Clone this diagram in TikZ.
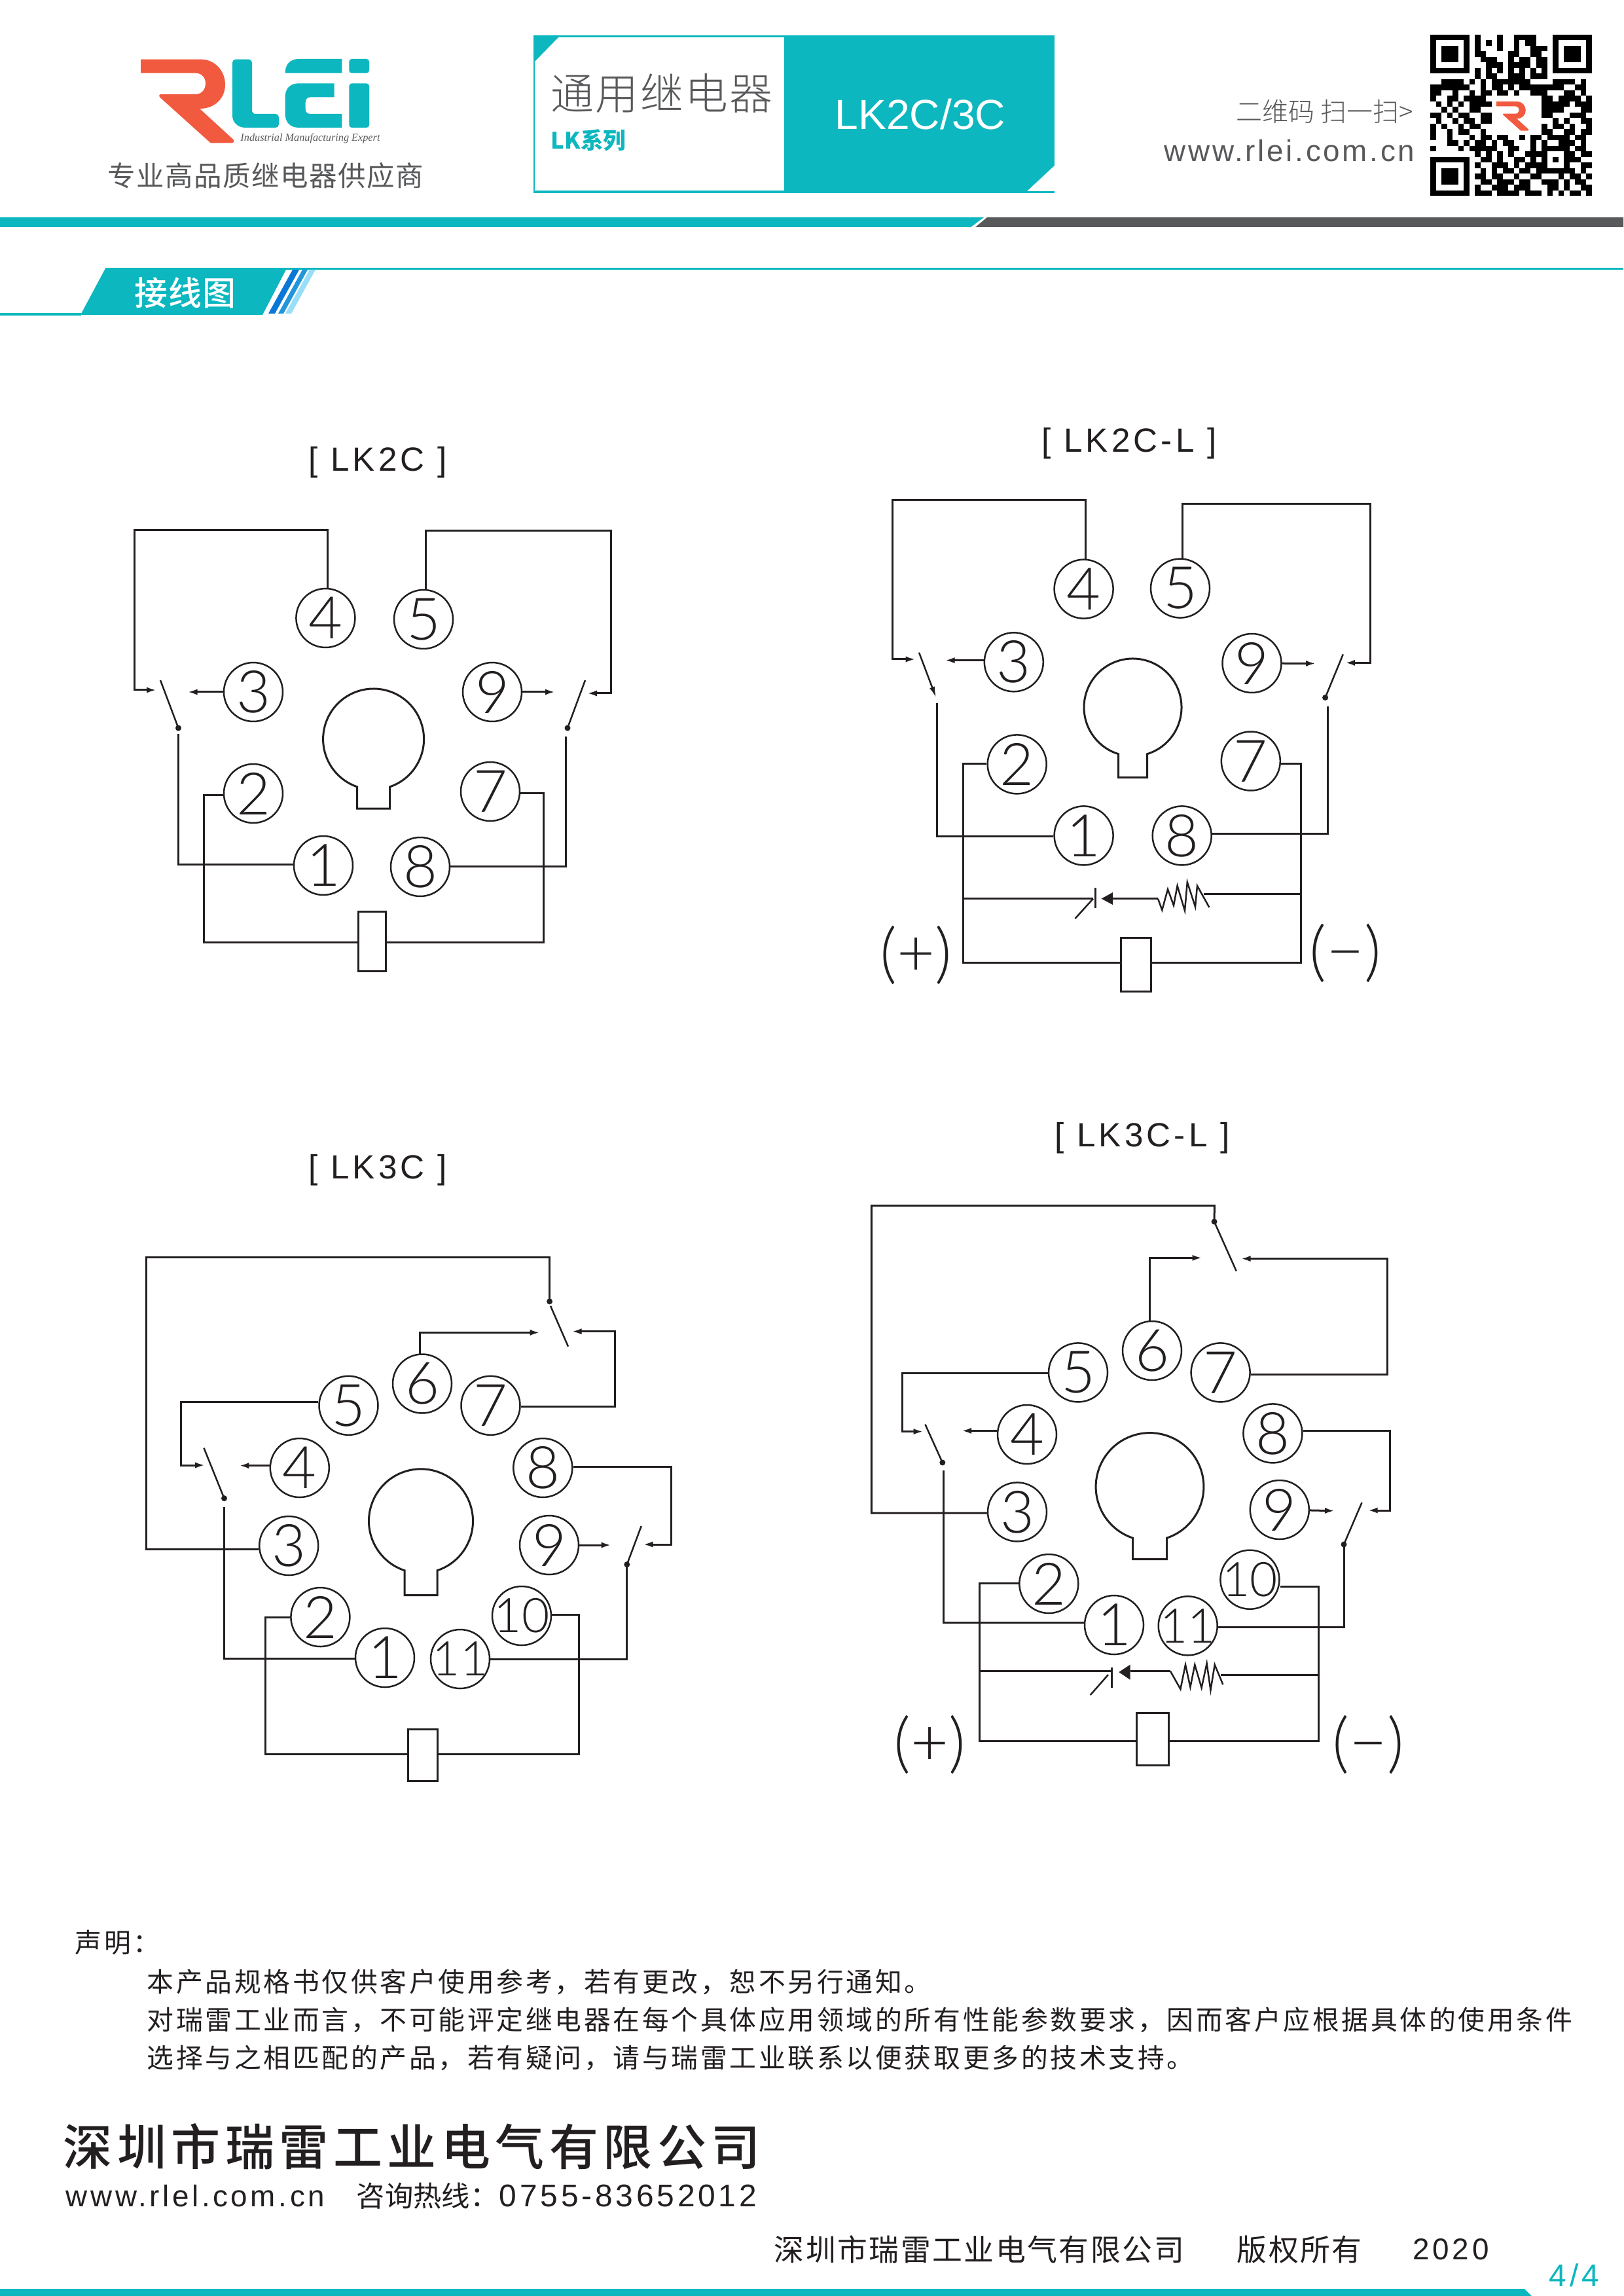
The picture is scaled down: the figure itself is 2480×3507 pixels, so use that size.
\documentclass[tikz,border=0pt]{standalone}
\usepackage{fontspec}
\usetikzlibrary{arrows.meta}
\setmainfont{Liberation Sans}
\newfontfamily\cjk{Noto Sans CJK SC}
\newfontfamily\cjkL{Noto Sans CJK SC Light}
\newfontfamily\cjkM{Noto Sans CJK SC Medium}
\newfontfamily\cjkLs[LetterSpace=4]{Noto Sans CJK SC Light}
\newfontfamily\cjkA[LetterSpace=9]{Noto Sans CJK SC}
\newfontfamily\cjkB[LetterSpace=5.5]{Noto Sans CJK SC}
\newfontfamily\cjkC[LetterSpace=3.5]{Noto Sans CJK SC}
\newfontfamily\cjkD[LetterSpace=10]{Noto Sans CJK SC Medium}
\newfontfamily\cjkE[LetterSpace=2]{Noto Sans CJK SC Medium}
\newfontfamily\latA[LetterSpace=10]{Liberation Sans}
\newfontfamily\latC[LetterSpace=8]{Liberation Sans}
\newfontfamily\pinfont{Lato Light}
\newfontfamily\cursive{Liberation Serif}
\definecolor{teal}{HTML}{0CB7BF}
\definecolor{ink}{HTML}{231F20}
\definecolor{dgray}{HTML}{58595B}
\definecolor{lred}{HTML}{F25A40}
\tikzset{
  wire/.style={draw=ink,line width=.72pt,line join=miter},
  blade/.style={draw=ink,line width=.6pt},
  arr/.style={wire,-{Latex[length=3.6pt,width=2.2pt]}},
  pinbox/.style={circle,draw=ink,line width=.6pt,inner sep=0pt,minimum size=21.6pt,text=ink,font=\pinfont\fontsize{21.5}{21.5}\selectfont},
  pintwo/.style={pinbox,font=\pinfont\fontsize{17.5}{17.5}\selectfont},
  coilbox/.style={rectangle,draw=ink,line width=.72pt,inner sep=0pt,fill=white},
  sockline/.style={draw=ink,line width=.72pt},
  titlelabel/.style={inner sep=0pt,text=ink,font=\latA\fontsize{12.3}{12.3}\selectfont},
  polar/.style={inner sep=0pt,text=ink,font=\pinfont\fontsize{24}{24}\selectfont},
  txt/.style={inner sep=0pt,text=ink},
}
\newcommand{\pinat}[4]{\node[pinbox] (#1) at (#2,#3) {\makebox[0pt]{#4}};}
\newcommand{\pintw}[4]{\node[pintwo] (#1) at (#2,#3) {\makebox[0pt]{#4}};}
\newcommand{\coilat}[5]{\node[coilbox,minimum width=#4*.24pt,minimum height=#5*.24pt] (#1) at (#2,#3) {};}
\newcommand{\socketat}[5]{%
  \pgfmathsetmacro\sockA{asin(#4/#3)}%
  \pgfmathsetmacro\sockY{#2+#3*cos(\sockA)}%
  \draw[sockline] ({#1+#4},\sockY) arc[start angle=90-\sockA,end angle=-270+\sockA,radius=#3] -- ({#1-#4},#5) -- ({#1+#4},#5) -- cycle;}
\newcommand{\swdot}[5]{\coordinate (#1) at (#4,#5); \draw[blade] (#2,#3) -- (#1); \fill[ink] (#1) circle[radius=4.5];}
\newcommand{\logoRpath}{(75,62) -- (350,62) .. controls (415,62) and (462,115) .. (462,178) .. controls (462,240) and (415,288) .. (345,288) -- (500,430) .. controls (505,440) and (500,445) .. (490,445) -- (395,445) -- (165,238) .. controls (155,228) and (160,222) .. (170,222) -- (325,222) .. controls (355,222) and (372,200) .. (372,172) .. controls (372,145) and (355,125) .. (325,125) -- (75,125) -- cycle}
\newcount\qrc
\def\qrscan#1{\ifx#1.\let\qrnext\relax\else\if#11\fill[black] ({2185+8.5*\the\qrc},{52.7+8.5*\qrrow}) rectangle ++(8.7,8.7);\fi\global\advance\qrc by 1 \let\qrnext\qrscan\fi\qrnext}
\begin{document}
\begin{tikzpicture}[x=.24pt,y=-.24pt]
\useasboundingbox (0,0) rectangle (2480,3507);
\fill[white] (0,0) rectangle (2480,3507);
% ---------- logo
\begin{scope}[shift={(190,70)},x=.08pt,y=-.08pt]
\fill[lred] \logoRpath;
\fill[teal,rounded corners=1.2pt] (495,62) -- (585,62) -- (585,285) .. controls (585,305) and (595,312) .. (612,312) -- (708,312) -- (708,375) -- (570,375) .. controls (520,375) and (495,350) .. (495,305) -- cycle;
\fill[teal] (737,125) .. controls (737,85) and (760,60) .. (800,60) -- (997,60) -- (997,125) -- cycle;
\fill[teal] (737,235) .. controls (737,195) and (760,172) .. (800,172) -- (962,172) -- (962,235) -- (855,235) .. controls (838,235) and (830,245) .. (830,260) -- (830,290) .. controls (830,305) and (838,312) .. (855,312) -- (997,312) -- (997,375) -- (800,375) .. controls (760,375) and (737,350) .. (737,312) -- cycle;
\fill[teal,rounded corners=1pt] (1030,60) rectangle (1122,125);
\fill[teal,rounded corners=1pt] (1030,172) rectangle (1122,375);
\end{scope}
\node[txt,text=dgray,font=\cursive\itshape\fontsize{3.9}{3.9}\selectfont] (tagline) at (474,212) {Industrial Manufacturing Expert};
\node[txt,text=dgray,font=\cjkC\fontsize{10.2}{10.2}\selectfont] (slogan) at (406,268) {专业高品质继电器供应商};
% ---------- title box
\fill[teal] (1198,54) rectangle (1611,295);
\draw[teal,line width=.6pt] (816,55) rectangle (1610,294);
\fill[teal] (815,54) rectangle (1198,57);
\fill[teal] (815,54) -- (856,54) -- (815,96) -- cycle;
\fill[teal] (815,291) rectangle (1611,295);
\fill[white] (1611,253) -- (1611,292) -- (1569,292) -- cycle;
\node[txt,text=dgray,font=\cjkLs\fontsize{15.8}{15.8}\selectfont] (tbig) at (1011,143) {通用继电器};
\node[txt,anchor=west,text=teal,font=\cjk\bfseries\fontsize{8.3}{8.3}\selectfont] (tser) at (841,214) {LK系列};
\node[txt,text=white,font=\fontsize{15.4}{15.4}\selectfont] (tmod) at (1406,175) {LK2C/3C};
\node[txt,anchor=east,text=dgray,font=\cjkL\fontsize{9.6}{9.6}\selectfont] (tscan) at (2160,170) {二维码 扫一扫>};
\node[txt,anchor=east,text=dgray,font=\latC\fontsize{11}{11}\selectfont] (tweb) at (2162,230) {www.rlei.com.cn};
% ---------- QR
\foreach \qrrow/\qrbits in {
0/11111110100010011110001111111,
1/10000010101010010110001000001,
2/10111010100010010011101011101,
3/10111010110000110011001011101,
4/10111010011100101101101011101,
5/10000010001110111101101000001,
6/11111110101010101010101111111,
7/00000000101100111011100000000,
8/00111101010111111100001111010,
9/11111110010110101111111100110,
10/11001001011011010011100011010,
11/10011011110000000000110111101,
12/01010101111000000000111110111,
13/00101001100000000000111100011,
14/11010110011000000000110001110,
15/01001011011000000000001010011,
16/10100101100000000000101101001,
17/10010110010000000000110011011,
18/10010001011011001011011110110,
19/00011010110101100010100111010,
20/10000101111100110010111110110,
21/00000000101010100111100011011,
22/11111110011010011010101011100,
23/10000010100111010111100010011,
24/10111010010101101101111111010,
25/10111010110110010011000101101,
26/10111010011011101100111010110,
27/10000010100111011100011010011,
28/11111110111011110111010101101}{\global\qrc=0 \expandafter\qrscan\qrbits.}
\begin{scope}[shift={(2277.3,148)},x=.0278pt,y=-.0278pt]
\fill[lred] \logoRpath;
\end{scope}
% ---------- header rule
\fill[teal] (0,332) -- (1503,332) -- (1483,347) -- (0,347) -- cycle;
\fill[dgray] (1508,332) -- (2480,332) -- (2480,347) -- (1490,347) -- cycle;
% ---------- section header
\fill[teal] (0,478) rectangle (124,482);
\fill[teal] (161,410) -- (438,410) -- (401,481) -- (123,481) -- cycle;
\fill[teal] (161,409.5) rectangle (2480,412.5);
\fill[teal!65!blue] (447,412) -- (457,412) -- (420,479) -- (410,479) -- cycle;
\fill[cyan!75!blue!90!white] (462,412) -- (470,412) -- (433,479) -- (425,479) -- cycle;
\fill[cyan!40!white] (473,412) -- (482,412) -- (445,479) -- (436,479) -- cycle;
\node[txt,text=white,font=\cjkE\fontsize{12.2}{12.2}\selectfont] (tsec) at (283,447) {接线图};
% ---------- LK2C
\node[titlelabel] (ta) at (577,706) {[ LK2C ]};
\pinat{a4}{497.4}{944}{4}\pinat{a5}{647}{946}{5}\pinat{a3}{387}{1057}{3}\pinat{a9}{752}{1057}{9}
\pinat{a2}{387}{1212}{2}\pinat{a7}{749}{1209}{7}\pinat{a1}{494}{1322}{1}\pinat{a8}{642}{1324}{8}
\socketat{570.6}{1129}{77}{25}{1235}
\coilat{ac}{568}{1437.5}{42}{91}
\swdot{asa}{245}{1039}{272.5}{1112}
\swdot{asb}{894}{1039}{867}{1112}
\coordinate (ata) at (239,1054);\coordinate (atb) at (286.6,1057);\coordinate (atc) at (848,1057);\coordinate (atd) at (897,1059);
\coordinate (awa) at (272.5,1121);\coordinate (awb) at (864,1125);
\draw[arr] (500,900) -- (500,810) -- (205,810) -- (205,1054) -- (ata);
\draw[arr] (a3) -- (atb);
\draw[arr] (a9) -- (atc);
\draw[arr] (650,902) -- (650,811) -- (933,811) -- (933,1059) -- (atd);
\draw[wire] (awa) -- (272.5,1320) -- (a1.west|-0,1320);
\draw[wire] (a8.east|-0,1323) -- (864,1323) -- (awb);
\draw[wire] (a2.west|-0,1214) -- (311.5,1214) -- (311.5,1439) -- (ac.west|-0,1439);
\draw[wire] (a7.east|-0,1211) -- (830,1211) -- (830,1439) -- (ac.east|-0,1439);
% ---------- LK2C-L
\node[titlelabel] (tb) at (1725,677) {[ LK2C-L ]};
\pinat{b4}{1655.6}{899.7}{4}\pinat{b5}{1803}{898.6}{5}\pinat{b3}{1548.8}{1011.3}{3}\pinat{b9}{1912.5}{1013}{9}
\pinat{b2}{1553.7}{1167.4}{2}\pinat{b7}{1910.8}{1162.5}{7}\pinat{b1}{1655.6}{1276.4}{1}\pinat{b8}{1805.7}{1276.4}{8}
\socketat{1730.5}{1080.5}{74.5}{22}{1187.5}
\coilat{bc}{1735}{1473}{46}{82}
\coordinate (bsa) at (1430,1065.5);
\draw[blade,-{Latex[length=4pt,width=2pt]}] (1404,996.7) -- (bsa);
\swdot{bsb}{2051.8}{999.4}{2024.6}{1065.5}
\coordinate (bta) at (1398.6,1007);\coordinate (btb) at (1443.6,1008.6);\coordinate (btc) at (2010,1013.5);\coordinate (btd) at (2055,1012.4);
\coordinate (bwa) at (1431,1074);\coordinate (bwb) at (2028.5,1079);
\draw[arr] (1658,855) -- (1658,764) -- (1363,764) -- (1363,1007) -- (bta);
\draw[arr] (b3.west|-0,1008.6) -- (btb);
\draw[arr] (b9) -- (btc);
\draw[arr] (1806,854) -- (1806,770) -- (2093,770) -- (2093,1012.4) -- (btd);
\draw[wire] (bwa) -- (1431,1277) -- (b1.west|-0,1277);
\draw[wire] (b8.east|-0,1273) -- (2028.5,1273) -- (bwb);
\draw[wire] (b2.west|-0,1166) -- (1471,1166) -- (1471,1470) -- (bc.west|-0,1470);
\draw[wire] (b7.east|-0,1166) -- (1987,1166) -- (1987,1470) -- (bc.east|-0,1470);
\draw[wire] (1471,1372.7) -- (1670,1372.7);
\draw[blade] (1673.4,1356) -- (1673.4,1387);
\draw[blade] (1670,1372.7) -- (1642.5,1403);
\fill[ink] (1682.6,1372.7) -- (1700,1363) -- (1700,1382) -- cycle;
\draw[wire] (1700,1372.7) -- (1769,1372.7);
\draw[blade] (1769,1372.7) -- (1775.3,1390) -- (1784,1358.3) -- (1793,1383) -- (1798.6,1353) -- (1810,1391) -- (1813.8,1347.5) -- (1826,1385) -- (1829,1353) -- (1847.4,1386);
\draw[wire] (1839,1365) -- (1987,1365);
\node[polar] (bp) at (1399,1459) {(+)};
\node[polar] (bm) at (2055,1456) {(−)};
% ---------- LK3C
\node[titlelabel] (tc) at (577,1787) {[ LK3C ]};
\pinat{c5}{532.5}{2146.8}{5}\pinat{c6}{645}{2113.5}{6}\pinat{c7}{749.5}{2146.8}{7}\pinat{c4}{457.8}{2242}{4}
\pinat{c8}{829.3}{2242}{8}\pinat{c3}{441.2}{2361}{3}\pinat{c9}{839}{2360}{9}\pinat{c2}{489.4}{2470}{2}
\pintw{c10}{797}{2468}{10}\pinat{c1}{588}{2532}{1}\pintw{c11}{703}{2534}{11}
\socketat{643}{2323.3}{79.5}{25}{2436.7}
\coilat{cc}{645.5}{2680.5}{45}{79}
\swdot{csa}{311.5}{2211.7}{342.5}{2288.6}
\swdot{csb}{979.7}{2331}{957.8}{2389.6}
\coordinate (csc) at (839.6,1987.8);
\draw[blade] (841,1994.7) -- (868,2056.7);
\fill[ink] (csc) circle[radius=4.5];
\coordinate (cta) at (824.7,2035.4);\coordinate (ctb) at (873.5,2033.7);\coordinate (ctc) at (313.2,2238);\coordinate (ctd) at (365.4,2238.6);\coordinate (cte) at (933.7,2360);\coordinate (ctf) at (982.5,2359);
\coordinate (cwa) at (342.5,2301.8);\coordinate (cwb) at (957.8,2389.6);
\draw[wire] (c3.west|-0,2366) -- (223.6,2366) -- (223.6,1920.6) -- (839.6,1920.6) -- (csc);
\draw[arr] (641.5,2069) -- (641.5,2035.4) -- (cta);
\draw[arr] (c7.east|-0,2148.5) -- (939.5,2148.5) -- (939.5,2033.7) -- (ctb);
\draw[arr] (c5.west|-0,2141) -- (276.4,2141) -- (276.4,2238) -- (ctc);
\draw[arr] (c4.west|-0,2238.6) -- (ctd);
\draw[arr] (c9) -- (cte);
\draw[arr] (c8.east|-0,2240.4) -- (1025,2240.4) -- (1025,2359) -- (ctf);
\draw[wire] (cwa) -- (342.5,2533) -- (c1.west|-0,2533);
\draw[wire] (c11.east|-0,2534) -- (957.8,2534) -- (cwb);
\draw[wire] (c2.west|-0,2470) -- (405.6,2470) -- (405.6,2679) -- (cc.west|-0,2679);
\draw[wire] (c10.east|-0,2466) -- (884.4,2466) -- (884.4,2679) -- (cc.east|-0,2679);
% ---------- LK3C-L
\node[titlelabel] (td) at (1745,1738) {[ LK3C-L ]};
\pinat{d5}{1647}{2096.4}{5}\pinat{d6}{1760}{2063}{6}\pinat{d7}{1864.6}{2096.4}{7}\pinat{d4}{1569}{2191}{4}
\pinat{d8}{1944.4}{2189.4}{8}\pinat{d3}{1554}{2309.4}{3}\pinat{d9}{1954.8}{2306}{9}\pinat{d2}{1602.3}{2419}{2}
\pintw{d10}{1909.4}{2412.7}{10}\pinat{d1}{1702}{2482}{1}\pintw{d11}{1814.7}{2483.3}{11}
\socketat{1756.5}{2271}{82.4}{26}{2381.7}
\coilat{dc}{1760.5}{2656.7}{49}{80}
\swdot{dsa}{1413.4}{2175.6}{1439.8}{2234}
\swdot{dsb}{2080.5}{2295}{2053}{2359}
\swdot{dsc}{1888.7}{1941.4}{1855}{1866}
\coordinate (dta) at (1836.5,1921.3);\coordinate (dtb) at (1895.6,1922.5);\coordinate (dtc) at (1410.5,2186.6);\coordinate (dtd) at (1469,2185.4);\coordinate (dte) at (2039,2307.7);\coordinate (dtf) at (2089.7,2307);
\coordinate (dwa) at (1441.5,2245.7);
\draw[wire] (d3.west|-0,2311) -- (1331.3,2311) -- (1331.3,1841.5) -- (1855.4,1841.5) -- (dsc);
\draw[arr] (1756,2018) -- (1756,1921.3) -- (dta);
\draw[arr] (d7.east|-0,2099.3) -- (2119,2099.3) -- (2119,1922.5) -- (dtb);
\draw[arr] (d5.west|-0,2097.6) -- (1378.4,2097.6) -- (1378.4,2186.6) -- (dtc);
\draw[arr] (d4.west|-0,2185.4) -- (dtd);
\draw[arr] (d9) -- (dte);
\draw[arr] (d8.east|-0,2185.4) -- (2123,2185.4) -- (2123,2307) -- (dtf);
\draw[wire] (dwa) -- (1441.5,2478.8) -- (d1.west|-0,2478.8);
\draw[wire] (d11.east|-0,2485.6) -- (2053,2485.6) -- (dsb);
\draw[wire] (d2.west|-0,2418.5) -- (1496.3,2418.5) -- (1496.3,2659.3) -- (dc.west|-0,2659.3);
\draw[wire] (d10.east|-0,2423) -- (2014.7,2423) -- (2014.7,2659.3) -- (dc.east|-0,2659.3);
\draw[wire] (1496.3,2552.7) -- (1698,2552.7);
\draw[blade] (1698.4,2546.7) -- (1698.4,2578);
\draw[blade] (1693,2558) -- (1665.7,2589);
\fill[ink] (1709.3,2554) -- (1726.5,2542.7) -- (1726.5,2565.7) -- cycle;
\draw[wire] (1726.5,2552.7) -- (1788,2552.7);
\draw[blade] (1788,2552.7) -- (1803.4,2580) -- (1811,2542.7) -- (1818.4,2577) -- (1825.3,2542.7) -- (1835.6,2578) -- (1843.6,2540.7) -- (1849.4,2581.7) -- (1855.7,2542.7) -- (1868.3,2573);
\draw[wire] (1865.4,2558.3) -- (2014.7,2558.3);
\node[polar] (dp) at (1420,2665) {(+)};
\node[polar] (dm) at (2090,2665) {(−)};
% ---------- footer
\node[txt,anchor=west,font=\cjkA\fontsize{9.8}{9.8}\selectfont] (fa) at (114,2967) {声明：};
\node[txt,anchor=west,font=\cjkA\fontsize{9.8}{9.8}\selectfont] (fb) at (224,3027) {本产品规格书仅供客户使用参考，若有更改，恕不另行通知。};
\node[txt,anchor=west,font=\cjkA\fontsize{9.8}{9.8}\selectfont] (fc) at (224,3085) {对瑞雷工业而言，不可能评定继电器在每个具体应用领域的所有性能参数要求，因而客户应根据具体的使用条件};
\node[txt,anchor=west,font=\cjkA\fontsize{9.8}{9.8}\selectfont] (fd) at (224,3143) {选择与之相匹配的产品，若有疑问，请与瑞雷工业联系以便获取更多的技术支持。};
\node[txt,anchor=west,font=\cjkD\fontsize{18}{18}\selectfont] (fe) at (96,3279) {深圳市瑞雷工业电气有限公司};
\node[txt,anchor=west,font=\latA\fontsize{11}{11}\selectfont] (ff) at (100,3354) {www.rlel.com.cn};
\node[txt,anchor=west,font=\cjk\fontsize{10.4}{10.4}\selectfont] (fg) at (544,3354) {咨询热线：};
\node[txt,anchor=west,font=\latA\fontsize{11.5}{11.5}\selectfont] (fh) at (762,3354) {0755-83652012};
\node[txt,anchor=west,font=\cjkB\fontsize{11}{11}\selectfont] (fi) at (1182,3436) {深圳市瑞雷工业电气有限公司};
\node[txt,anchor=west,font=\cjkB\fontsize{11}{11}\selectfont] (fj) at (1889,3436) {版权所有};
\node[txt,anchor=west,font=\latA\fontsize{11}{11}\selectfont] (fk) at (2158,3436) {2020};
\node[txt,text=teal,font=\latA\fontsize{11.5}{11.5}\selectfont] (fl) at (2405,3475) {4/4};
\fill[teal] (0,3496) -- (2329,3496) -- (2340,3507) -- (0,3507) -- cycle;
\end{tikzpicture}
\end{document}
